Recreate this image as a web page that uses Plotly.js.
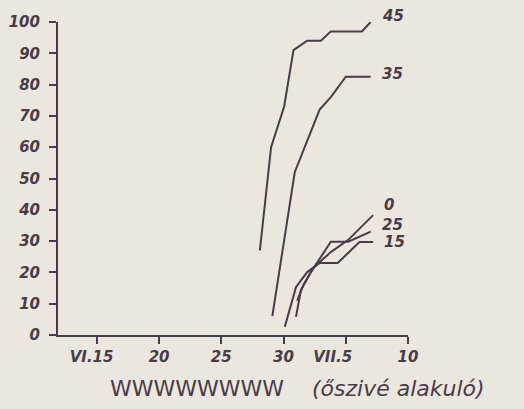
<!DOCTYPE html>
<html>
<head>
<meta charset="utf-8">
<script src="https://cdn.plot.ly/plotly-3.0.1.min.js"></script>
<style>
html,body{margin:0;padding:0;background:#ebe7df;}
#chart{width:524px;height:409px;}
</style>
</head>
<body>
<div id="chart"></div>
<script>
// Day numbers: June days as is, July days as 30 + day
const tickVals = [15, 20, 25, 30, 35, 40];
const tickLabels = ["VI.15\u00a0\u00a0", "20", "25", "30", "VII.5\u00a0\u00a0\u00a0\u00a0\u00a0", "10"];
const yTickVals = [0, 10, 20, 30, 40, 50, 60, 70, 80, 90, 100];

const seriesNames = ["45", "35", "0", "25", "15"];

const days45 = [28.1, 29.0, 30.05, 30.8, 31.9, 33.0, 33.8, 36.3, 37.0];
const vals45 = [27, 60, 73, 91, 94, 94, 97, 97, 100];

const days35 = [29.1, 30.9, 32.9, 33.8, 35.0, 37.0];
const vals35 = [6, 52, 72, 76, 82.5, 82.5];

const days0 = [31.1, 31.6, 32.4, 33.8, 35.2, 37.2];
const vals0 = [11, 16, 21.5, 26.5, 30.4, 38.3];

const days25 = [31.0, 31.4, 32.2, 33.8, 35.2, 37.0];
const vals25 = [5.8, 14.4, 20.1, 29.8, 29.8, 33.0];

const days15 = [30.1, 31.0, 31.9, 32.9, 34.35, 36.1, 37.2];
const vals15 = [2.6, 15.3, 20.1, 23.0, 23.0, 29.7, 29.7];

const titleMain = "WWWWWWWW";
const titleSub = "(őszivé alakuló)";

const labelShift = {"45": 6, "35": 3, "0": 10, "25": 7, "15": 0};

const ink = "#4a3c47";
const allDays = [days45, days35, days0, days25, days15];
const allVals = [vals45, vals35, vals0, vals25, vals15];

const traces = seriesNames.map((n, i) => ({
  x: allDays[i], y: allVals[i], type: "scatter", mode: "lines", name: n,
  line: {color: ink, width: 2}, hoverinfo: "skip"
}));

const labelFont = {family: "DejaVu Sans", size: 15, color: ink, style: "italic", weight: "bold"};

const annotations = seriesNames.map((n, i) => ({
  x: allDays[i][allDays[i].length - 1],
  y: allVals[i][allVals[i].length - 1],
  xref: "x", yref: "y", text: n, showarrow: false,
  xanchor: "left", yanchor: "middle", xshift: 9, yshift: labelShift[n],
  font: labelFont
}));

const W = 524, H = 409, m = {l: 58, r: 116, t: 22, b: 74};

annotations.push({
  x: (108 - m.l) / (W - m.l - m.r), y: -(388 - (H - m.b)) / (H - m.t - m.b),
  xref: "paper", yref: "paper",
  text: titleMain + "\u00a0\u00a0\u00a0\u00a0<i>" + titleSub + "</i>",
  showarrow: false, xanchor: "left", yanchor: "middle",
  font: {family: "DejaVu Sans", size: 22, color: ink}
});

const layout = {
  width: W, height: H,
  margin: m,
  paper_bgcolor: "#ebe7df", plot_bgcolor: "#ebe7df",
  showlegend: false,
  xaxis: {
    range: [11.88, 40], tickmode: "array", tickvals: tickVals, ticktext: tickLabels,
    showline: true, linecolor: ink, linewidth: 2, ticks: "outside", ticklen: 7,
    tickwidth: 2, tickcolor: ink, showgrid: false, zeroline: false,
    tickfont: {family: "DejaVu Sans", size: 15, color: ink, style: "italic", weight: "bold"}
  },
  yaxis: {
    range: [0, 100], tickmode: "array", tickvals: yTickVals,
    showline: true, linecolor: ink, linewidth: 2, ticks: "outside", ticklen: 7,
    tickwidth: 2, tickcolor: ink, showgrid: false, zeroline: false, ticklabelstandoff: 6,
    tickfont: {family: "DejaVu Sans", size: 15, color: ink, style: "italic", weight: "bold"}
  },
  annotations: annotations
};

Plotly.newPlot("chart", traces, layout, {staticPlot: true, displayModeBar: false});
</script>
</body>
</html>
